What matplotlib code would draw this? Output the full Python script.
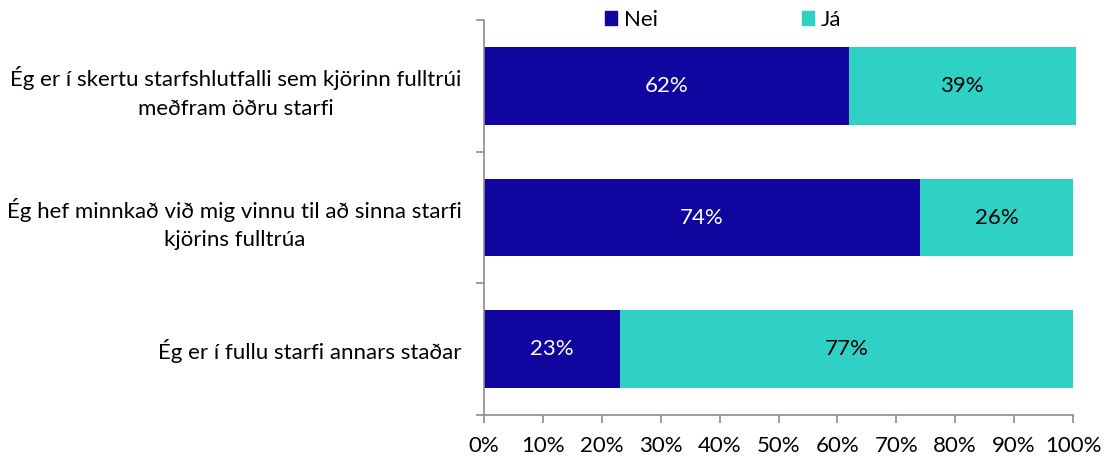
import numpy as np
import matplotlib.pyplot as plt
from matplotlib.patches import Patch

plt.rcParams['font.family'] = ['Lato', 'DejaVu Sans']

categories = ["Ég er í skertu starfshlutfalli sem kjörinn fulltrúi\nmeðfram öðru starfi",
              "Ég hef minnkað við mig vinnu til að sinna starfi\nkjörins fulltrúa",
              "Ég er í fullu starfi annars staðar"]
nei = [61.9, 74, 23.1]
ja = [38.6, 26, 76.9]
series_names = ["Nei", "Já"]
c_nei = "#10069F"
c_ja = "#2ED1C4"
grey = "#8c8c8c"
fs = 16

fig = plt.figure(figsize=(11.04, 4.59), dpi=100)
ax = fig.add_axes([484/1104, 1-415/459, (1073-484)/1104, (415-20)/459])

y = np.arange(len(categories))
h = 0.59
ax.barh(y, nei, height=h, color=c_nei, clip_on=False)
ax.barh(y, ja, left=nei, height=h, color=c_ja, clip_on=False)

for i in range(len(categories)):
    ax.text(nei[i]/2, y[i], f"{round(nei[i])}%", color="white", ha="center", va="center", fontsize=fs)
    ax.text(nei[i] + ja[i]/2, y[i], f"{round(ja[i])}%", color="black", ha="center", va="center", fontsize=fs)

ax.set_xlim(0, 100)
ax.set_ylim(2.5, -0.5)
ax.set_xticks(np.arange(0, 101, 10))
ax.set_xticklabels([f"{v}%" for v in range(0, 101, 10)], fontsize=fs)
ax.set_yticks(y)
ax.set_yticklabels(categories, fontsize=fs)
for lbl in ax.get_yticklabels():
    lbl.set_multialignment('center')
    lbl.set_linespacing(1.55)
ax.set_yticks([-0.5, 0.5, 1.5, 2.5], minor=True)
ax.tick_params(axis='y', which='major', length=0, pad=16)
ax.tick_params(axis='y', which='minor', length=6, color=grey, width=1.2)
ax.tick_params(axis='x', length=6, color=grey, width=1.2, pad=9)

for s in ['top', 'right']:
    ax.spines[s].set_visible(False)
for s in ['left', 'bottom']:
    ax.spines[s].set_color(grey)
    ax.spines[s].set_linewidth(1.2)

handles = [Patch(color=c_nei), Patch(color=c_ja)]
fig.legend(handles, series_names, loc='center', bbox_to_anchor=(723/1104, 1-20/459),
           ncol=2, frameon=False, fontsize=fs, handlelength=0.55, handleheight=0.55,
           handletextpad=0.3, columnspacing=6.5, borderaxespad=0)

fig.savefig("out.png", dpi=100)
